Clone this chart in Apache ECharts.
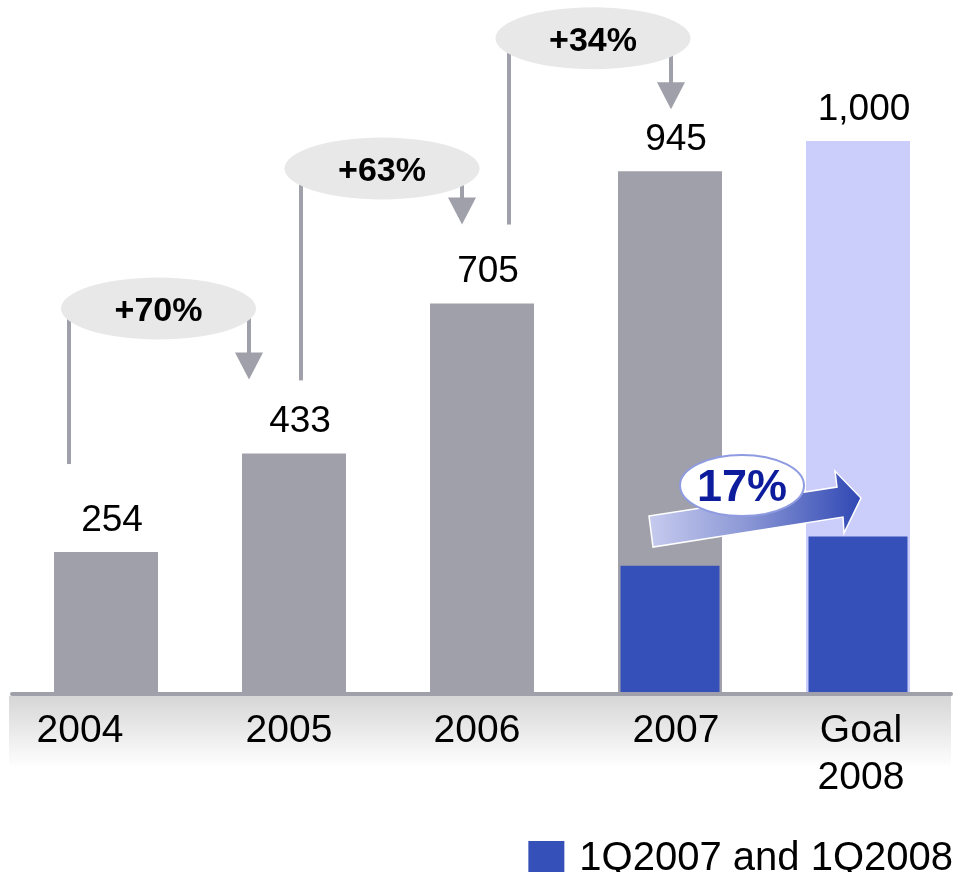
<!DOCTYPE html>
<html><head><meta charset="utf-8">
<script src="https://cdn.jsdelivr.net/npm/echarts@6/dist/echarts.min.js"></script>
<style>html,body{margin:0;padding:0;background:#fff}#c{width:960px;height:872px}</style>
</head><body><div id="c"></div>
<script>
// ---- data ----
const categories = ['2004', '2005', '2006', '2007', 'Goal\n2008'];
const totals = [254, 433, 705, 945, 1000];
const quarterValues = [null, null, null, 229, 282];
const growthLabels = ['+70%', '+63%', '+34%'];
const quarterGrowthLabel = '17%';
const legendName = '1Q2007 and 1Q2008';

// ---- styles / layout ----
const FONT = '"Liberation Sans", Arial, Helvetica, sans-serif';
const GREY = '#a0a0aa';
const LAV = '#cbcdfa';
const BLUE = '#3650b9';
const labelShift = [-26, -5, -5, 6, 3];
const annLayout = [
  {ex: 52.5, ey: -145, lx: -37, ly: -88, ax: -45, ay: -74},
  {ex: 88,   ey: -135, lx: 7,   ly: -73, ax: -20, ay: -79},
  {ex: 111,  ey: -133, lx: 27,  ly: -79, ax: 1,   ay: -62}
];

const rich = {};
labelShift.forEach((s, i) => {
  rich['l' + i] = {
    fontFamily: FONT, fontSize: 39, color: '#000', lineHeight: 47,
    padding: s < 0 ? [0, -2 * s, 0, 0] : [0, 0, 0, 2 * s]
  };
});

const chart = echarts.init(document.getElementById('c'), null, {renderer: 'canvas'});
chart.setOption({
  animation: false,
  grid: {left: 12, right: 8, top: 141, bottom: 180, containLabel: false, outerBoundsMode: 'none'},
  xAxis: [
    {
      type: 'category', data: categories,
      axisLine: {show: false}, axisTick: {show: false}, splitLine: {show: false},
      axisLabel: {
        interval: 0, margin: 16,
        formatter: (v, i) => v.split('\n').map(s => '{l' + i + '|' + s + '}').join('\n'),
        rich: rich
      }
    },
    {type: 'category', data: categories, show: false}
  ],
  yAxis: {type: 'value', min: 0, max: 1000, show: false, splitLine: {show: false}},
  legend: {
    data: [legendName], right: 2, top: 834, itemWidth: 36, itemHeight: 36, icon: 'rect',
    selectedMode: false,
    textStyle: {fontFamily: FONT, fontSize: 40, color: '#000', padding: [0, 0, 0, 10]}
  },
  series: [
    {
      name: 'Total', type: 'bar', xAxisIndex: 0, barWidth: 104, z: 2,
      data: totals.map((v, i) => ({value: v, itemStyle: {color: i === totals.length - 1 ? LAV : GREY}})),
      label: {
        show: true, position: 'top', distance: 13, offset: [6, 0],
        fontFamily: FONT, fontSize: 37, color: '#000',
        formatter: p => Number(p.value).toLocaleString('en-US')
      }
    },
    {
      name: legendName, type: 'bar', xAxisIndex: 1, barWidth: 99, z: 3,
      data: quarterValues, itemStyle: {color: BLUE}
    }
  ]
});

const px = i => chart.convertToPixel({xAxisIndex: 0}, i);
const py = v => chart.convertToPixel({yAxisIndex: 0}, v);
const zeroY = py(0);
const g = [];

// axis band and baseline
g.push({type: 'rect', z: -1, silent: true,
  shape: {x: 9, y: zeroY + 4, width: 942, height: 72},
  style: {fill: new echarts.graphic.LinearGradient(0, 0, 0, 1, [
    {offset: 0, color: '#d6d6d6'}, {offset: 1, color: '#ffffff'}])}});
g.push({type: 'rect', z: 1, silent: true,
  shape: {x: 10, y: zeroY, width: 943, height: 4, r: 2},
  style: {fill: GREY}});

// growth annotations
growthLabels.forEach((txt, i) => {
  const L = annLayout[i];
  const cx = px(i) + L.ex;
  const cy = py(totals[i + 1]) + L.ey;
  const lx = px(i) + L.lx;
  const lyB = py(totals[i]) + L.ly;
  const ax = px(i + 1) + L.ax;
  const tip = py(totals[i + 1]) + L.ay;
  g.push({type: 'line', z: 10, silent: true,
    shape: {x1: lx, y1: cy, x2: lx, y2: lyB}, style: {stroke: GREY, lineWidth: 4}});
  g.push({type: 'line', z: 10, silent: true,
    shape: {x1: ax, y1: cy, x2: ax, y2: tip - 26}, style: {stroke: GREY, lineWidth: 4}});
  g.push({type: 'polygon', z: 10, silent: true,
    shape: {points: [[ax - 14, tip - 27], [ax + 14, tip - 27], [ax, tip]]}, style: {fill: GREY}});
  g.push({type: 'ellipse', z: 11, silent: true,
    shape: {cx: cx, cy: cy, rx: 97.5, ry: 31}, style: {fill: '#e8e8e8'}});
  g.push({type: 'text', z: 12, silent: true,
    style: {x: cx, y: cy + 3, text: txt, font: 'bold 34px ' + FONT, fill: '#000',
      textAlign: 'center', textVerticalAlign: 'middle', verticalAlign: 'middle'}});
});

// 17% arrow between the quarter bars
const ox = px(3), oy = py(quarterValues[3]);
const arrowPts = [[-21, -49.8], [167, -78.8], [165, -94.8], [191, -67.8], [174, -32.8], [173, -48.8], [-17, -18.8]];
g.push({type: 'polygon', z: 20, silent: true,
  shape: {points: arrowPts.map(p => [ox + p[0], oy + p[1]])},
  style: {fill: new echarts.graphic.LinearGradient(0, 0, 1, 0, [
    {offset: 0, color: '#c6cbee'}, {offset: 0.45, color: '#8d99d6'}, {offset: 1, color: '#2f47b4'}]),
    stroke: '#ffffff', lineWidth: 1.5}});
g.push({type: 'ellipse', z: 21, silent: true,
  shape: {cx: ox + 72, cy: oy - 80.3, rx: 62, ry: 30.5},
  style: {fill: '#ffffff', stroke: '#8e9be0', lineWidth: 2}});
g.push({type: 'text', z: 22, silent: true,
  style: {x: ox + 72, y: oy - 77, text: quarterGrowthLabel, font: 'bold 45px ' + FONT, fill: '#0c1c9c',
    textAlign: 'center', textVerticalAlign: 'middle', verticalAlign: 'middle'}});

chart.setOption({graphic: {elements: g}});
</script>
</body></html>
